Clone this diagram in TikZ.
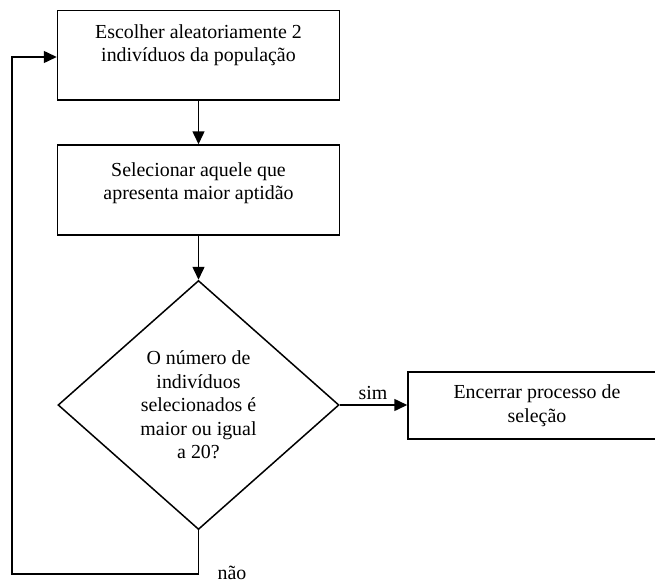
\documentclass[tikz,border=0pt]{standalone}
\usepackage{fontspec}
\setmainfont{Liberation Serif}
\usetikzlibrary{shapes.geometric,arrows.meta}
\begin{document}
\begin{tikzpicture}[x=1pt,y=-1pt,
  every node/.style={font=\fontsize{19.9}{23.5}\selectfont},
  box/.style={draw, line width=1.5pt, rectangle, inner sep=0pt, align=center},
  decision/.style={draw, line width=1.5pt, diamond, inner sep=0pt, align=center,
    minimum width=281pt, minimum height=249pt},
  conn/.style={line width=1.5pt},
  arr/.style={conn, -{Triangle[length=13pt,width=12pt]}},
  lbl/.style={inner sep=0pt},
]
\useasboundingbox (0,0) rectangle (655,583);

\node[box] (b1) at (198.5,55.25)
  {\parbox[c][89.5pt][t]{282pt}{\centering\rule{0pt}{27.8pt}Escolher aleatoriamente 2\\indivíduos da população}};
\node[box] (b2) at (198.5,190)
  {\parbox[c][90pt][t]{282pt}{\centering\rule{0pt}{31pt}Selecionar aquele que\\apresenta maior aptidão}};
\node[decision] (dia) at (198.5,405)
  {O número de\\indivíduos\\selecionados é\\maior ou igual\\a 20?};
\node[box, minimum width=258pt, minimum height=67pt] (b3) at (537,405.5)
  {Encerrar processo de\\seleção};

\node[lbl] (sim) at (373,393) {sim};
\node[lbl] (nao) at (232,573) {não};

\coordinate (c1) at (12,574);
\coordinate (c2) at (12,57);

\draw[arr] (b1.south) -- (b2.north);
\draw[arr] (b2.south) -- (dia.north);
\draw[arr] (dia.east) -- (dia.east -| b3.west);
\draw[arr] (dia.south) -- (dia.south |- c1) -- (c1) -- (c2) -- (c2 -| b1.west);
\end{tikzpicture}
\end{document}
